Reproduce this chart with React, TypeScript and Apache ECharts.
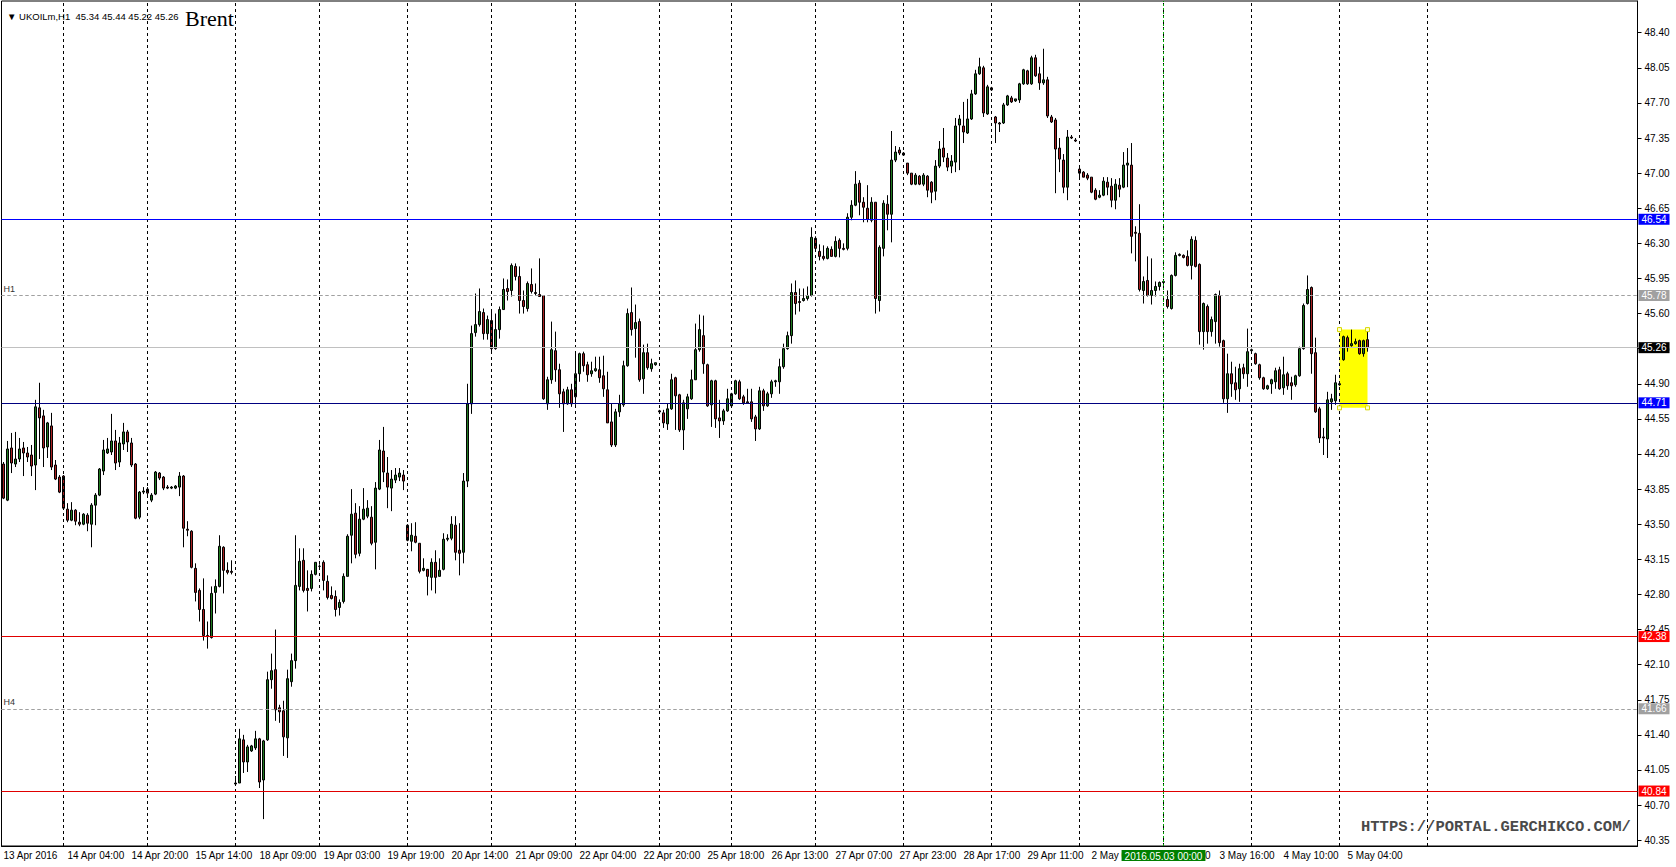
import React, { useEffect, useRef } from 'react';
import * as echarts from 'echarts';

// Trading sessions: [day, first hour, last hour] (H1 bars)
const sessions: [string, number, number][] = [
  ['13 Apr', 9, 23], ['14 Apr', 3, 23], ['15 Apr', 2, 23], ['18 Apr', 3, 23], ['19 Apr', 2, 23],
  ['20 Apr', 3, 23], ['21 Apr', 3, 23], ['22 Apr', 3, 23], ['25 Apr', 6, 23], ['26 Apr', 3, 23],
  ['27 Apr', 2, 23], ['28 Apr', 2, 23], ['29 Apr', 2, 23], ['2 May', 3, 23], ['3 May', 2, 23],
  ['4 May', 2, 23], ['5 May', 2, 9],
];
// empty (chart shift) area on the right
const futureSessions: [string, number, number][] = [
  ['5 May', 10, 23], ['6 May', 2, 23], ['9 May', 2, 23], ['10 May', 2, 10],
];

const tickLabels = [
  '13 Apr 2016', '14 Apr 04:00', '14 Apr 20:00', '15 Apr 14:00', '18 Apr 09:00', '19 Apr 03:00',
  '19 Apr 19:00', '20 Apr 14:00', '21 Apr 09:00', '22 Apr 04:00', '22 Apr 20:00', '25 Apr 18:00',
  '26 Apr 13:00', '27 Apr 07:00', '27 Apr 23:00', '28 Apr 17:00', '29 Apr 11:00', '2 May 06:00',
  '2 May 22:00', '3 May 16:00', '4 May 10:00', '5 May 04:00',
];

const priceTicks = [
  40.35, 40.70, 41.05, 41.40, 41.75, 42.10, 42.45, 42.80, 43.15, 43.50, 43.85, 44.20,
  44.55, 44.90, 45.25, 45.60, 45.95, 46.30, 46.65, 47.00, 47.35, 47.70, 48.05, 48.40,
];

const open = [
  44.10, 43.74, 44.26, 44.10, 44.15, 44.26, 44.21, 44.19, 44.09, 44.66,
  44.58, 44.27, 44.48, 44.09, 43.97, 43.98, 43.65, 43.54, 43.64, 43.52,
  43.50, 43.59, 43.50, 43.69, 43.79, 44.03, 44.21, 44.22, 44.33, 44.12,
  44.30, 44.42, 44.31, 44.10, 43.57, 43.82, 43.85, 43.74, 43.80, 44.01,
  43.97, 43.87, 43.86, 43.86, 43.87, 43.98, 43.45, 43.43, 43.06, 42.84,
  42.65, 42.39, 42.37, 42.82, 42.88, 43.27, 43.04, 43.03, 40.92, 40.92,
  41.35, 41.13, 41.24, 41.27, 41.36, 40.95, 41.35, 41.95, 42.05, 41.67,
  41.64, 41.37, 41.93, 42.14, 42.88, 43.14, 42.86, 42.86, 43.00, 43.08,
  43.12, 42.93, 42.79, 42.78, 42.67, 42.73, 42.98, 43.39, 43.61, 43.21,
  43.55, 43.58, 43.57, 43.32, 43.85, 44.23, 44.01, 43.86, 43.94, 43.97,
  43.99, 43.49, 43.33, 43.38, 43.31, 43.04, 43.05, 42.97, 43.12, 42.98,
  43.05, 43.35, 43.36, 43.49, 43.24, 43.22, 43.93, 44.70, 45.41, 45.49,
  45.61, 45.40, 45.53, 45.25, 45.44, 45.64, 45.85, 45.83, 46.07, 45.97,
  45.73, 45.65, 45.89, 45.81, 45.79, 45.78, 44.70, 44.94, 45.23, 45.04,
  44.82, 44.70, 44.84, 44.77, 45.00, 45.20, 45.09, 45.00, 45.03, 45.04,
  44.98, 44.84, 44.52, 44.29, 44.62, 44.69, 45.08, 45.61, 45.45, 45.52,
  44.95, 45.21, 45.05, 45.09, 44.63, 44.61, 44.50, 44.65, 44.96, 44.79,
  44.44, 44.65, 44.75, 44.94, 45.24, 45.38, 45.09, 44.69, 44.93, 44.56,
  44.53, 44.63, 44.68, 44.80, 44.92, 44.77, 44.72, 44.72, 44.57, 44.45,
  44.83, 44.68, 44.80, 44.92, 44.92, 45.07, 45.25, 45.38, 45.81, 45.72,
  45.73, 45.75, 45.78, 46.35, 46.22, 46.17, 46.15, 46.24, 46.17, 46.33,
  46.25, 46.25, 46.56, 46.68, 46.90, 46.71, 46.65, 46.53, 46.71, 45.73,
  46.25, 46.69, 46.59, 47.13, 47.23, 47.20, 47.10, 47.00, 46.89, 46.97,
  46.89, 46.97, 46.91, 46.82, 47.07, 47.25, 47.15, 47.07, 47.11, 47.48,
  47.47, 47.40, 47.54, 47.79, 47.99, 48.05, 47.59, 47.85, 47.56, 47.50,
  47.50, 47.68, 47.75, 47.72, 47.73, 47.89, 48.02, 47.89, 48.15, 47.99,
  47.90, 47.93, 47.56, 47.53, 47.25, 47.13, 46.86, 47.36, 47.33, 47.04,
  47.01, 46.98, 46.96, 46.83, 46.76, 46.78, 46.91, 46.87, 46.73, 46.88,
  46.86, 47.08, 47.08, 46.41, 46.40, 45.83, 45.93, 45.78, 45.83, 45.87,
  45.91, 45.74, 45.65, 45.98, 46.18, 46.18, 46.17, 46.08, 46.33, 46.09,
  45.42, 45.67, 45.42, 45.52, 45.78, 45.33, 44.75, 45.00, 44.91, 44.85,
  45.06, 45.00, 45.23, 45.20, 45.09, 44.96, 44.85, 44.90, 44.92, 45.04,
  44.86, 45.00, 44.91, 44.89, 44.98, 45.25, 45.70, 45.86, 45.21, 44.65,
  44.37, 44.35, 44.72, 44.73, 44.89, 45.14, 45.36, 45.28, 45.30, 45.33,
  45.20, 45.34,
];
const high = [
  44.12, 44.33, 44.41, 44.42, 44.36, 44.32, 44.27, 44.29, 44.74, 44.91,
  44.64, 44.52, 44.61, 44.14, 43.99, 43.99, 43.71, 43.72, 43.65, 43.62,
  43.61, 43.61, 43.71, 43.81, 44.06, 44.34, 44.36, 44.60, 44.44, 44.37,
  44.51, 44.44, 44.36, 44.11, 43.83, 43.87, 43.87, 43.81, 44.03, 44.02,
  43.98, 43.89, 43.88, 43.89, 44.02, 43.99, 43.53, 43.44, 43.11, 42.86,
  42.96, 42.53, 42.88, 42.95, 43.39, 43.28, 43.12, 43.14, 40.99, 41.46,
  41.40, 41.30, 41.30, 41.44, 41.37, 41.35, 42.03, 42.21, 42.45, 41.70,
  41.74, 42.05, 42.21, 43.39, 43.26, 43.26, 43.04, 43.04, 43.12, 43.10,
  43.14, 42.99, 42.88, 42.84, 42.75, 43.01, 43.40, 43.85, 43.71, 43.68,
  43.86, 43.74, 43.68, 43.92, 44.34, 44.47, 44.17, 44.04, 44.06, 44.06,
  44.04, 43.50, 43.51, 43.52, 43.31, 43.16, 43.05, 43.16, 43.24, 43.16,
  43.41, 43.40, 43.58, 43.58, 43.51, 44.01, 44.90, 45.48, 45.80, 45.85,
  45.65, 45.58, 45.64, 45.60, 45.67, 45.95, 45.94, 46.10, 46.10, 46.07,
  45.83, 45.92, 46.05, 45.90, 46.15, 45.78, 44.97, 45.52, 45.42, 45.10,
  44.85, 44.87, 44.90, 45.20, 45.21, 45.22, 45.12, 45.12, 45.17, 45.17,
  45.18, 45.02, 44.70, 44.65, 44.79, 45.13, 45.65, 45.86, 45.69, 45.55,
  45.29, 45.30, 45.15, 45.11, 44.64, 44.64, 44.70, 45.00, 44.97, 44.80,
  44.74, 44.80, 45.04, 45.50, 45.59, 45.58, 45.10, 44.94, 44.94, 44.74,
  44.65, 44.85, 44.81, 44.94, 44.94, 44.79, 44.85, 44.85, 44.59, 44.87,
  44.85, 44.82, 44.94, 44.94, 45.15, 45.30, 45.42, 45.90, 45.93, 45.85,
  45.85, 45.87, 46.46, 46.37, 46.29, 46.28, 46.27, 46.27, 46.37, 46.35,
  46.30, 46.60, 46.73, 47.02, 46.93, 46.76, 46.88, 46.76, 46.71, 46.28,
  46.73, 46.78, 47.42, 47.27, 47.26, 47.21, 47.10, 47.00, 47.00, 46.98,
  47.00, 46.98, 46.92, 47.13, 47.32, 47.45, 47.20, 47.18, 47.55, 47.58,
  47.71, 47.74, 47.83, 48.03, 48.15, 48.07, 47.88, 47.86, 47.57, 47.51,
  47.70, 47.78, 47.77, 47.74, 47.90, 48.04, 48.03, 48.17, 48.18, 48.06,
  48.24, 47.96, 47.58, 47.55, 47.35, 47.19, 47.43, 47.38, 47.35, 47.08,
  47.02, 47.00, 46.96, 46.85, 46.83, 46.96, 46.96, 46.95, 46.94, 46.95,
  47.21, 47.25, 47.30, 46.47, 46.69, 45.97, 46.17, 46.15, 45.92, 45.92,
  45.93, 45.83, 45.99, 46.21, 46.20, 46.19, 46.23, 46.37, 46.37, 46.10,
  45.71, 45.69, 45.57, 45.80, 45.83, 45.34, 45.20, 45.12, 45.07, 45.10,
  45.10, 45.45, 45.25, 45.21, 45.10, 44.97, 44.89, 44.95, 45.06, 45.07,
  45.17, 45.02, 44.97, 44.99, 45.27, 45.70, 45.98, 45.87, 45.36, 44.67,
  44.46, 44.82, 44.80, 44.99, 44.91, 45.38, 45.38, 45.44, 45.35, 45.34,
  45.34, 45.44,
];
const low = [
  43.75, 43.73, 44.01, 44.07, 44.12, 43.98, 44.12, 43.98, 43.84, 44.15,
  44.07, 44.16, 44.04, 43.94, 43.81, 43.65, 43.52, 43.53, 43.49, 43.48,
  43.49, 43.43, 43.27, 43.49, 43.78, 43.99, 44.20, 44.19, 44.04, 44.07,
  44.24, 44.22, 44.07, 43.55, 43.55, 43.80, 43.78, 43.72, 43.79, 43.94,
  43.84, 43.85, 43.85, 43.85, 43.78, 43.27, 43.38, 43.06, 42.73, 42.53,
  42.34, 42.26, 42.36, 42.61, 42.87, 42.81, 43.00, 43.00, 40.90, 40.92,
  41.02, 41.03, 41.23, 41.25, 40.87, 40.56, 41.34, 41.86, 41.54, 41.52,
  41.19, 41.17, 41.88, 42.06, 42.84, 42.82, 42.63, 42.83, 42.99, 43.06,
  42.84, 42.75, 42.75, 42.58, 42.59, 42.71, 42.98, 43.11, 43.16, 43.18,
  43.54, 43.56, 43.29, 43.05, 43.84, 43.92, 43.66, 43.63, 43.91, 43.93,
  43.84, 43.33, 43.23, 43.31, 43.01, 43.03, 42.79, 42.84, 42.81, 42.98,
  43.04, 43.33, 43.34, 43.14, 42.99, 43.11, 43.87, 44.60, 45.37, 45.47,
  45.34, 45.34, 45.22, 45.24, 45.35, 45.64, 45.73, 45.77, 45.93, 45.60,
  45.60, 45.62, 45.80, 45.78, 45.77, 44.74, 44.64, 44.90, 44.92, 44.66,
  44.42, 44.69, 44.67, 44.69, 44.92, 45.02, 44.92, 44.97, 45.02, 44.91,
  44.77, 44.51, 44.27, 44.27, 44.57, 44.67, 45.07, 45.38, 45.16, 44.92,
  44.80, 45.04, 45.02, 45.08, 44.61, 44.46, 44.44, 44.64, 44.44, 44.42,
  44.24, 44.55, 44.74, 44.94, 45.22, 45.00, 44.67, 44.47, 44.46, 44.36,
  44.49, 44.62, 44.67, 44.79, 44.74, 44.69, 44.70, 44.52, 44.33, 44.44,
  44.63, 44.67, 44.76, 44.87, 44.80, 45.05, 45.24, 45.30, 45.59, 45.62,
  45.72, 45.73, 45.77, 46.22, 46.13, 46.13, 46.14, 46.17, 46.16, 46.16,
  46.23, 46.23, 46.53, 46.67, 46.58, 46.51, 46.51, 46.51, 45.60, 45.62,
  46.17, 46.43, 46.31, 47.11, 47.18, 47.18, 46.98, 46.88, 46.88, 46.88,
  46.87, 46.76, 46.70, 46.73, 47.05, 47.11, 47.02, 47.00, 47.01, 47.03,
  47.30, 47.39, 47.53, 47.78, 47.98, 47.56, 47.58, 47.82, 47.30, 47.41,
  47.49, 47.67, 47.70, 47.71, 47.70, 47.88, 47.88, 47.88, 47.96, 47.83,
  47.88, 47.55, 47.50, 46.80, 47.01, 46.80, 46.73, 47.34, 47.31, 46.95,
  46.96, 46.93, 46.80, 46.73, 46.75, 46.77, 46.78, 46.66, 46.64, 46.76,
  46.85, 46.86, 46.20, 46.12, 45.82, 45.70, 45.77, 45.69, 45.77, 45.83,
  45.88, 45.65, 45.64, 45.97, 46.17, 46.15, 46.07, 45.94, 46.06, 45.29,
  45.24, 45.30, 45.37, 45.30, 45.27, 44.71, 44.61, 44.77, 44.74, 44.72,
  44.95, 44.87, 45.21, 45.09, 44.94, 44.84, 44.84, 44.80, 44.85, 44.84,
  44.79, 44.84, 44.74, 44.87, 44.97, 45.24, 45.69, 45.00, 44.61, 44.31,
  44.19, 44.16, 44.64, 44.69, 44.88, 45.13, 45.22, 45.27, 45.29, 45.19,
  45.17, 45.22,
];
const close = [
  43.76, 44.25, 44.11, 44.15, 44.25, 44.21, 44.17, 44.08, 44.67, 44.56,
  44.26, 44.51, 44.07, 43.95, 43.82, 43.66, 43.54, 43.64, 43.53, 43.50,
  43.60, 43.51, 43.69, 43.79, 44.05, 44.24, 44.25, 44.33, 44.11, 44.31,
  44.42, 44.32, 44.09, 43.56, 43.82, 43.83, 43.81, 43.79, 44.02, 43.96,
  43.86, 43.86, 43.87, 43.88, 43.98, 43.46, 43.44, 43.07, 42.82, 42.65,
  42.39, 42.38, 42.81, 42.88, 43.28, 43.04, 43.02, 43.02, 40.91, 41.36,
  41.13, 41.28, 41.29, 41.36, 40.93, 41.34, 41.95, 42.04, 41.65, 41.63,
  41.38, 41.96, 42.14, 42.89, 43.13, 42.84, 42.84, 43.00, 43.12, 43.08,
  42.94, 42.77, 42.76, 42.65, 42.72, 42.98, 43.38, 43.60, 43.20, 43.55,
  43.65, 43.66, 43.31, 43.86, 44.24, 44.02, 43.87, 43.95, 43.99, 44.01,
  43.93, 43.34, 43.39, 43.32, 43.03, 43.06, 42.98, 43.12, 42.97, 43.04,
  43.35, 43.36, 43.50, 43.22, 43.21, 43.93, 44.70, 45.40, 45.49, 45.62,
  45.40, 45.54, 45.25, 45.44, 45.64, 45.84, 45.82, 46.08, 45.97, 45.73,
  45.67, 45.90, 45.82, 45.80, 45.77, 44.75, 44.94, 45.24, 45.04, 44.80,
  44.70, 44.84, 44.70, 45.00, 45.20, 45.08, 44.99, 45.03, 45.05, 44.96,
  44.85, 44.51, 44.29, 44.62, 44.70, 45.08, 45.60, 45.44, 45.51, 44.94,
  45.21, 45.06, 45.10, 45.11, 44.62, 44.51, 44.65, 44.94, 44.78, 44.44,
  44.71, 44.77, 44.94, 45.24, 45.44, 45.10, 44.68, 44.93, 44.55, 44.53,
  44.63, 44.75, 44.80, 44.93, 44.75, 44.71, 44.71, 44.55, 44.45, 44.83,
  44.68, 44.80, 44.92, 44.93, 45.07, 45.25, 45.38, 45.81, 45.70, 45.71,
  45.75, 45.78, 46.36, 46.25, 46.17, 46.15, 46.25, 46.17, 46.32, 46.25,
  46.24, 46.56, 46.68, 46.89, 46.71, 46.66, 46.54, 46.71, 45.75, 46.26,
  46.70, 46.59, 47.13, 47.21, 47.20, 47.18, 47.00, 46.89, 46.98, 46.89,
  46.98, 46.83, 46.81, 47.07, 47.24, 47.16, 47.06, 47.12, 47.47, 47.54,
  47.41, 47.54, 47.79, 47.99, 48.06, 47.60, 47.86, 47.83, 47.50, 47.49,
  47.68, 47.77, 47.71, 47.74, 47.89, 48.03, 47.89, 48.15, 47.97, 47.90,
  47.93, 47.57, 47.51, 47.24, 47.14, 46.86, 47.36, 47.35, 47.32, 47.00,
  46.96, 46.95, 46.81, 46.74, 46.78, 46.92, 46.86, 46.73, 46.89, 46.84,
  47.08, 47.10, 46.37, 46.40, 45.84, 45.92, 45.78, 45.83, 45.87, 45.91,
  45.92, 45.67, 45.98, 46.18, 46.19, 46.16, 46.08, 46.34, 46.07, 45.42,
  45.70, 45.42, 45.54, 45.79, 45.31, 44.75, 45.00, 44.90, 44.84, 45.05,
  45.00, 45.22, 45.24, 45.10, 44.96, 44.85, 44.88, 44.94, 45.03, 44.85,
  44.99, 44.88, 44.88, 44.98, 45.25, 45.68, 45.84, 45.20, 44.62, 44.36,
  44.36, 44.74, 44.75, 44.91, 44.90, 45.37, 45.26, 45.30, 45.32, 45.20,
  45.33, 45.26,
];

// horizontal levels drawn on the chart
const levels = [46.54, 45.78, 45.26, 44.71, 42.38, 41.66, 40.84];
const levelNames = ['', 'H1', '', '', '', 'H4', ''];
// vertical marker line and its caption
const markedTime = '3 May 02:00';
const markedCaption = '2016.05.03 00:00';
// yellow highlight box
const boxFrom = '5 May 02:00';
const boxTo = '5 May 09:00';
const boxTop = 45.44;
const boxBottom = 44.66;

const symbolName = 'UKOILm,H1';
const titleText = 'Brent';
const watermark = 'HTTPS://PORTAL.GERCHIKCO.COM/';

// ---- styles ----
const levelStyles = [
  { line: '#0000ff', type: 'solid', box: '#0000ff' },
  { line: '#a0a0a0', type: [3, 3], box: '#a0a0a0' },
  { line: '#c0c0c0', type: 'solid', box: '#000000' },
  { line: '#000080', type: 'solid', box: '#0000ff' },
  { line: '#e00000', type: 'solid', box: '#ff0000' },
  { line: '#a0a0a0', type: [3, 3], box: '#a0a0a0' },
  { line: '#e00000', type: 'solid', box: '#ff0000' },
];
const FONT = "'Liberation Sans', Arial, sans-serif";

const hh = (h: number) => (h < 10 ? '0' : '') + h + ':00';
const categories: string[] = [];
for (const [d, a, b] of [...sessions, ...futureSessions]) {
  for (let h = a; h <= b; h++) categories.push(`${d} ${hh(h)}`);
}
const dayStarts = [...sessions.slice(1), futureSessions[1]].map(([d, a]) => `${d} ${hh(a)}`);

const last = open.length - 1;
const headerText = `▼ ${symbolName}  ${open[last].toFixed(2)} ${high[last].toFixed(2)} ${low[last].toFixed(2)} ${close[last].toFixed(2)}`;

const candleData = open.map((o, i) => [o, close[i], low[i], high[i]]);

function buildOption(): any {
  const bgLines: any[] = dayStarts.map((c) => ({
    xAxis: c,
    lineStyle: { color: '#000', type: [3, 3], width: 1 },
    label: { show: false },
  }));

  const fgLines: any[] = [];
  levels.forEach((v, i) => {
    const st = levelStyles[i];
    fgLines.push({
      yAxis: v,
      lineStyle: { color: st.line, type: st.type, width: 1 },
      label: {
        show: true, position: 'end', formatter: v.toFixed(2), color: '#fff',
        backgroundColor: st.box, padding: [1, 3, 0, 3], fontSize: 10, fontFamily: FONT, distance: 1,
      },
    });
    if (levelNames[i]) {
      fgLines.push({
        yAxis: v,
        lineStyle: { color: st.line, type: st.type, width: 1 },
        label: {
          show: true, position: 'insideStartTop', formatter: levelNames[i], color: '#333',
          fontSize: 9, fontFamily: FONT, distance: 2,
        },
      });
    }
  });
  fgLines.push({
    xAxis: markedTime,
    lineStyle: { color: '#00a000', type: [2, 2], width: 1 },
    label: {
      show: true, position: 'start', formatter: markedCaption, color: '#fff',
      backgroundColor: '#008000', padding: [1, 3, 0, 3], fontSize: 10, fontFamily: FONT, distance: 4,
    },
  });

  const handle = { symbol: 'rect', symbolSize: 4, itemStyle: { color: '#ffffd0', borderColor: '#d8d800', borderWidth: 1 } };

  return {
    animation: false,
    backgroundColor: '#fff',
    textStyle: { fontFamily: FONT },
    title: [
      { text: headerText, left: 2, top: 6, textStyle: { fontSize: 9.5, fontWeight: 'normal', color: '#000', fontFamily: FONT } },
      { text: titleText, left: 180, top: 2, textStyle: { fontSize: 22, fontWeight: 'normal', color: '#000', fontFamily: "'Liberation Serif', 'Times New Roman', serif" } },
    ],
    grid: {
      left: 1.5, right: 38.5, top: 1, bottom: 21, show: true,
      borderColor: '#000', borderWidth: 1, backgroundColor: '#fff',
    },
    xAxis: {
      type: 'category', data: categories, boundaryGap: true,
      axisLine: { show: true, lineStyle: { color: '#000' } },
      axisTick: { show: false },
      splitLine: { show: false },
      axisLabel: {
        interval: (i: number, v: string) => i === 0 || tickLabels.includes(v),
        formatter: (v: string, i: number) => (i === 0 ? tickLabels[0] : v),
        align: 'left', margin: 4, fontSize: 10, color: '#000', fontFamily: FONT,
      },
    },
    yAxis: {
      type: 'value', position: 'right', min: 40.292, max: 48.716, scale: true,
      splitLine: { show: false },
      axisLine: { show: true, lineStyle: { color: '#000' } },
      axisTick: { show: true, length: 4, lineStyle: { color: '#000' }, customValues: priceTicks },
      axisLabel: {
        customValues: priceTicks, formatter: (v: number) => v.toFixed(2),
        color: '#000', fontSize: 10, fontFamily: FONT, margin: 7,
      },
    },
    graphic: [
      {
        type: 'text', x: 1361, y: 827, z: 50,
        style: {
          text: watermark, font: "bold 15.5px 'Liberation Mono', 'Courier New', monospace",
          fill: '#4a4a4a', align: 'left', verticalAlign: 'middle',
        },
      },
    ],
    series: [
      {
        type: 'line', data: [], z: 1, silent: true,
        markLine: { silent: true, symbol: ['none', 'none'], data: bgLines },
        markArea: {
          silent: true, itemStyle: { color: '#ffff00' },
          data: [[{ xAxis: boxFrom, yAxis: boxTop }, { xAxis: boxTo, yAxis: boxBottom }]],
        },
      },
      {
        type: 'candlestick', z: 2, data: candleData, barWidth: 2,
        itemStyle: {
          color: '#1f7a1f', color0: '#a82020', borderColor: '#000', borderColor0: '#000', borderWidth: 1,
        },
      },
      {
        type: 'line', data: [], z: 3, silent: true,
        markLine: { silent: true, symbol: ['none', 'none'], data: fgLines },
        markPoint: {
          silent: true, label: { show: false },
          data: [
            { coord: [boxFrom, boxTop], ...handle },
            { coord: [boxTo, boxTop], ...handle },
            { coord: [boxFrom, boxBottom], ...handle },
            { coord: [boxTo, boxBottom], ...handle },
          ],
        },
      },
    ],
  };
}

export default function App() {
  const ref = useRef<HTMLDivElement>(null);
  useEffect(() => {
    if (!ref.current) return;
    const chart = echarts.init(ref.current, null, { renderer: 'svg' });
    chart.setOption(buildOption());
    return () => chart.dispose();
  }, []);
  return (
    <div
      ref={ref}
      style={{ position: 'fixed', left: 0, top: 0, width: 1676, height: 867, background: '#fff' }}
    />
  );
}
